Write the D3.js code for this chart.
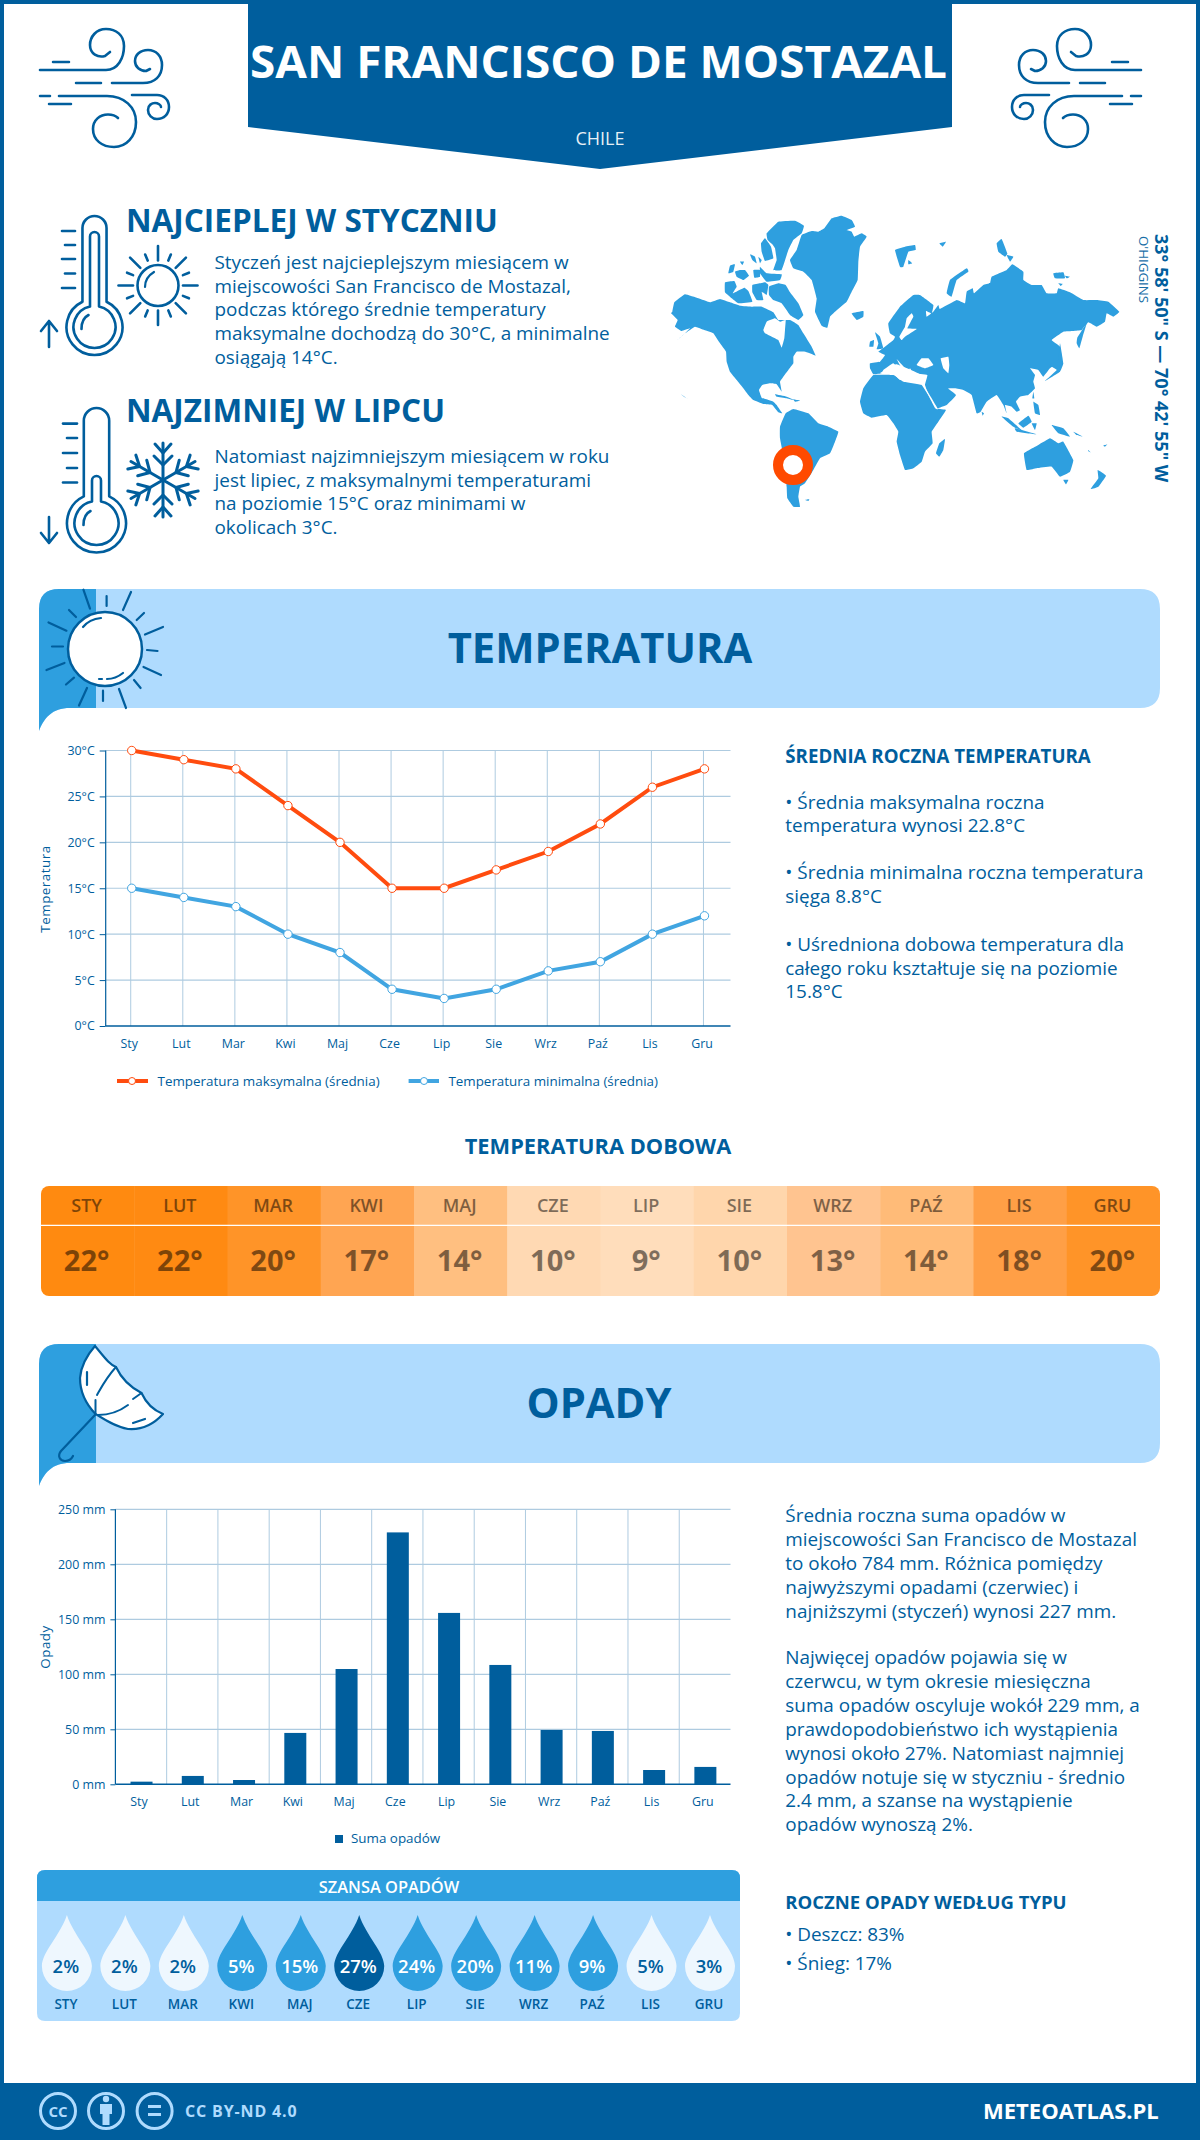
<!DOCTYPE html>
<html lang="pl"><head><meta charset="utf-8"><title>San Francisco de Mostazal</title>
<script src="https://cdn.jsdelivr.net/npm/d3@7"></script>
<style>html,body{margin:0;padding:0;background:#fff}svg{display:block}text{font-family:"Open Sans",sans-serif}</style>
</head><body><svg id="c" width="1200" height="2140" viewBox="0 0 1200 2140"></svg>
<script>
// ---------- data ----------
const months=["Sty","Lut","Mar","Kwi","Maj","Cze","Lip","Sie","Wrz","Paź","Lis","Gru"];
const monthsUpper=["STY","LUT","MAR","KWI","MAJ","CZE","LIP","SIE","WRZ","PAŹ","LIS","GRU"];
const tempMax=[30,29,28,24,20,15,15,17,19,22,26,28];
const tempMin=[15,14,13,10,8,4,3,4,6,7,10,12];
const tempTicks=[0,5,10,15,20,25,30];
const daily=[22,22,20,17,14,10,9,10,13,14,18,20];
const dailyColors=["#FF8A10","#FF8A12","#FF9428","#FFA552","#FFBF80","#FFD9B3","#FFDDBB","#FFD6AC","#FFC490","#FFBB78","#FF9F46","#FF9428"];
const precip=[2.4,7.6,3.9,46.7,104.8,229,155.8,108.5,49.4,48.5,13,15.8];
const precipTicks=[0,50,100,150,200,250];
const chance=[2,2,2,5,15,27,24,20,11,9,5,3];
const chanceLevel=[0,0,0,1,1,2,1,1,1,1,0,0];
const dropFill=["#EEF7FE","#2E9FDF","#005E9D"];
const dropText=["#005E9D","#FFFFFF","#FFFFFF"];
const warmText=["Styczeń jest najcieplejszym miesiącem w","miejscowości San Francisco de Mostazal,","podczas którego średnie temperatury","maksymalne dochodzą do 30°C, a minimalne","osiągają 14°C."];
const coldText=["Natomiast najzimniejszym miesiącem w roku","jest lipiec, z maksymalnymi temperaturami","na poziomie 15°C oraz minimami w","okolicach 3°C."];
const tempNotes=[["• Średnia maksymalna roczna",809],["temperatura wynosi 22.8°C",832],["• Średnia minimalna roczna temperatura",879],["sięga 8.8°C",903],["• Uśredniona dobowa temperatura dla",951],["całego roku kształtuje się na poziomie",975],["15.8°C",998]];
const rainNotes=[["Średnia roczna suma opadów w",1522],["miejscowości San Francisco de Mostazal",1546],["to około 784 mm. Różnica pomiędzy",1570],["najwyższymi opadami (czerwiec) i",1594],["najniższymi (styczeń) wynosi 227 mm.",1618],["Najwięcej opadów pojawia się w",1664],["czerwcu, w tym okresie miesięczna",1688],["suma opadów oscyluje wokół 229 mm, a",1712],["prawdopodobieństwo ich wystąpienia",1736],["wynosi około 27%. Natomiast najmniej",1760],["opadów notuje się w styczniu - średnio",1784],["2.4 mm, a szanse na wystąpienie",1807],["opadów wynoszą 2%.",1831]];
const rainTypes=[["• Deszcz: 83%",1941],["• Śnieg: 17%",1970]];

// ---------- palette ----------
const DARK="#005E9D",MID="#2E9FDF",PALE="#AFDBFE",GRID="#AECBE0",RED="#FF4C0F",AQUA="#41A5E1";
const svg=d3.select("#c");
function T(g,x,y,s,o={}){const t=g.append("text").attr("x",x).attr("y",y).text(s)
 .attr("font-size",o.size||18).attr("font-weight",o.w||400).attr("fill",o.fill||DARK)
 .attr("text-anchor",o.a||"start");
 if(o.ff)t.style("font-family",o.ff);if(o.ls)t.attr("letter-spacing",o.ls);if(o.op)t.attr("opacity",o.op);if(o.tl)t.attr("textLength",o.tl).attr("lengthAdjust","spacingAndGlyphs");return t;}
function L(g,x1,y1,x2,y2,sw=2.5,c=DARK){return g.append("line").attr("x1",x1).attr("y1",y1).attr("x2",x2).attr("y2",y2).attr("stroke",c).attr("stroke-width",sw).attr("stroke-linecap","round");}
function P(g,d,o={}){return g.append("path").attr("d",d).attr("fill",o.fill||"none").attr("stroke",o.stroke||"none").attr("stroke-width",o.sw||0).attr("stroke-linecap","round").attr("stroke-linejoin","round");}

// ---------- frame & header ----------
svg.append("rect").attr("x",2).attr("y",2).attr("width",1196).attr("height",2136).attr("fill","#fff").attr("stroke",DARK).attr("stroke-width",4);
P(svg,"M248 0H952V127L600 169L248 127Z",{fill:DARK});
T(svg,598.5,78,"SAN FRANCISCO DE MOSTAZAL",{size:44.5,w:700,fill:"#fff",a:"middle",tl:697});
T(svg,600,145,"CHILE",{size:18,fill:"#fff",a:"middle",op:.9});

function wind(g){
 const s={stroke:DARK,sw:2.6};
 P(g,"M40 70H106C118 70 124 58 124 46C124 35 116 29 106 29C96 29 90 37 90 45C90 54 98 58 105 56L110 52",s);
 L(g,53,62,69,62);
 L(g,76,83,101,83);
 P(g,"M112 83H143C155 83 162 76 162 65C162 56 156 50 148 50C140 50 135 55 135 61C135 67 140 71 146 71L150 69",s);
 L(g,40,96,50,96);
 P(g,"M59 96H107C124 96 136 107 136 122C136 137 126 147 114 147C102 147 93 140 93 129C93 120 100 114.5 108 114.5C113 114.5 116 116 118 118",s);
 L(g,49,104,71,104);
 P(g,"M132 95H157C164 95 169 100 169 107C169 114 164 119 157 119C152 119 148 115 148 110C148 105 152 103 155 103C158 103 161 105 161 107",s);
}
wind(svg.append("g"));
wind(svg.append("g").attr("transform","translate(1181,0) scale(-1,1)"));

// ---------- warm / cold blocks ----------
function thermo(g,cx,top,cy,R,r,iTop){
 const s={stroke:DARK,sw:2.6},hw=R*.43,jo=cy-Math.sqrt(R*R-hw*hw),ih=4.5,ji=cy-Math.sqrt(r*r-ih*ih);
 P(g,`M${cx-hw} ${jo}V${top+hw}A${hw} ${hw} 0 0 1 ${cx+hw} ${top+hw}V${jo}A${R} ${R} 0 1 1 ${cx-hw} ${jo}`,s);
 P(g,`M${cx-ih} ${ji}V${iTop+ih}A${ih} ${ih} 0 0 1 ${cx+ih} ${iTop+ih}V${ji}A${r} ${r} 0 1 1 ${cx-ih} ${ji}`,s);
 P(g,`M${cx-13} ${cy+2}C${cx-13} ${cy-5} ${cx-10} ${cy-10} ${cx-6} ${cy-12}`,s);
}
const warm=svg.append("g");
T(warm,126,232,"NAJCIEPLEJ W STYCZNIU",{size:31.5,w:700});
warmText.forEach((s,i)=>T(warm,214.5,[269,293,316,340,364][i],s,{size:18.9}));
thermo(warm,94.5,216,327,28,21,232);
[[62,231],[65,245],[62,259],[65,273.5],[62,288]].forEach(d=>L(warm,d[0],d[1],75,d[1],2.6));
P(warm,"M49 347V321M41 331L49 321L57 331",{stroke:DARK,sw:2.6});
warm.append("circle").attr("cx",158).attr("cy",285.5).attr("r",20.5).attr("fill","none").attr("stroke",DARK).attr("stroke-width",2.6);
P(warm,"M145 287C145 280 149 275 154 272",{stroke:DARK,sw:2.2});
d3.range(16).forEach(i=>{const a=i*Math.PI/8,lg=i%2==0,r0=lg?25:27,r1=lg?39.5:33.5;
 L(warm,158+r0*Math.cos(a),285.5+r0*Math.sin(a),158+r1*Math.cos(a),285.5+r1*Math.sin(a),2.6);});

const cold=svg.append("g");
T(cold,126,422,"NAJZIMNIEJ W LIPCU",{size:31.5,w:700});
coldText.forEach((s,i)=>T(cold,214.5,[463,487,510,534][i],s,{size:18.9}));
thermo(cold,96.5,408,523,29.5,22,476);
[[63,423.6],[67,438],[63,453],[67,468],[63,482.5]].forEach(d=>L(cold,d[0],d[1],77,d[1],2.6));
P(cold,"M49 517V543M41 533L49 543L57 533",{stroke:DARK,sw:2.6});
d3.range(6).forEach(i=>{const a=cold.append("g").attr("transform",`translate(163,480) rotate(${i*60})`);
 L(a,0,0,0,-37,3);
 P(a,"M-8 -36L0 -27L8 -36M-9 -24L0 -15L9 -24",{stroke:DARK,sw:3});});

// ---------- world map (outlines, in crop coordinates) ----------
const westLand=[
 [[22,320],[28,292],[60,268],[100,280],[135,292],[165,282],[195,292],[225,302],[262,305],[290,305],[325,322],[340,345],[375,345],[400,360],[415,385],[440,425],[452,452],[435,445],[420,440],[395,440],[385,455],[385,475],[370,495],[355,515],[345,530],[350,560],[335,538],[315,535],[292,540],[282,555],[290,578],[310,585],[325,590],[335,600],[345,615],[352,625],[340,622],[322,600],[295,597],[265,585],[250,570],[235,550],[215,525],[195,500],[185,470],[183,440],[165,415],[145,385],[118,375],[90,365],[60,385],[32,410],[60,385],[75,370],[50,378],[30,365],[38,345],[18,325]],
 [[305,85],[340,50],[390,47],[417,62],[410,85],[385,105],[370,135],[350,195],[325,195],[335,165],[330,130],[322,118],[308,105]],
 [[288,115],[300,100],[318,125],[325,160],[300,168],[290,140]],
 [[180,232],[208,228],[215,245],[203,265],[238,248],[250,258],[262,290],[220,295],[200,280],[180,262]],
 [[210,200],[225,195],[240,195],[252,212],[235,225],[215,215]],
 [[195,182],[210,178],[205,200],[190,205]],[[225,170],[237,170],[232,180]],[[255,148],[270,155],[275,175],[262,165]],[[280,155],[290,165],[285,175]],
 [[265,195],[285,195],[285,215],[268,218]],[[285,185],[305,205],[350,208],[345,225],[305,230],[285,205]],
 [[262,240],[285,235],[300,232],[310,240],[305,270],[290,260],[295,285],[275,285],[262,262]],
 [[312,245],[340,235],[362,240],[375,262],[400,295],[415,330],[400,345],[375,330],[350,295],[325,285],[312,270]],
 [[478,70],[500,40],[530,32],[560,45],[570,65],[545,75],[560,80],[568,95],[590,85],[605,95],[585,125],[580,170],[578,225],[560,260],[545,290],[510,320],[495,335],[487,368],[470,362],[450,320],[455,280],[440,225],[415,200],[385,190],[375,165],[395,135],[410,90],[440,78],[460,80]],
 [[560,325],[595,318],[595,335],[575,345]],
 [[345,665],[362,625],[385,612],[430,625],[460,655],[490,665],[520,680],[510,710],[495,745],[465,760],[445,795],[420,835],[405,845],[400,875],[405,905],[385,905],[367,880],[365,845],[360,780],[345,700]],
 [[420,885],[433,882],[430,888]],[[330,568],[365,575],[395,588],[365,580],[335,575]],[[385,583],[405,587],[390,590]],[[48,568],[68,582],[55,574]]
];
const westWater=[
 [[295,375],[305,350],[330,340],[345,350],[362,345],[360,375],[358,400],[350,428],[340,405],[320,395],[300,385]]
];
const eastLand=[
 [[60,475],[90,470],[105,450],[85,440],[105,425],[130,405],[135,395],[120,385],[115,355],[150,305],[190,270],[210,270],[250,300],[245,325],[228,318],[230,335],[250,320],[265,300],[270,312],[320,285],[345,295],[350,260],[368,250],[372,265],[400,240],[420,235],[425,215],[470,195],[487,178],[520,200],[520,225],[545,240],[575,240],[590,265],[620,265],[625,250],[660,262],[700,285],[740,285],[775,290],[808,320],[790,335],[770,325],[765,350],[740,365],[715,352],[695,375],[670,378],[640,380],[605,405],[630,425],[635,465],[600,490],[580,515],[565,495],[540,490],[555,510],[550,530],[555,550],[535,570],[510,575],[498,590],[510,615],[500,620],[485,605],[465,600],[470,625],[460,600],[440,570],[410,590],[392,620],[380,625],[365,570],[340,555],[315,550],[290,550],[280,540],[318,570],[290,600],[260,610],[240,580],[225,540],[232,510],[190,505],[180,490],[170,510],[155,490],[145,465],[160,505],[130,475],[100,495],[95,505],[70,508],[60,490]],
 [[30,590],[40,550],[70,510],[130,510],[160,530],[215,540],[260,610],[288,615],[265,650],[245,680],[248,715],[225,740],[215,770],[190,790],[165,795],[150,750],[140,710],[145,680],[130,655],[110,630],[65,638],[40,625]],
 [[75,382],[90,395],[100,430],[80,433],[85,415]],[[60,410],[72,405],[70,425],[58,425]],
 [[135,135],[165,125],[195,120],[197,135],[175,140],[160,185],[150,185]],[[175,165],[187,175],[175,178]],[[268,115],[288,110],[278,125]],
 [[290,265],[300,225],[350,190],[355,200],[320,225],[305,275]],
 [[440,115],[455,102],[472,145],[465,155],[445,140]],[[470,150],[490,155],[480,170]],
 [[610,205],[640,202],[645,220],[615,220]],[[625,235],[638,237],[632,243]],[[645,212],[660,215],[650,220]],
 [[682,398],[710,355],[698,395],[688,430],[680,415]],
 [[598,480],[625,465],[630,415],[640,475],[630,500],[585,528],[620,495]],
 [[550,560],[553,580],[547,580]],[[550,590],[565,600],[570,630],[555,625]],[[395,620],[402,625],[398,632]],
 [[455,635],[475,640],[520,680],[490,665]],[[495,670],[560,688],[500,680]],[[505,655],[535,632],[545,650],[520,668]],[[545,655],[560,655],[555,675]],
 [[605,660],[640,670],[660,695],[625,685]],[[670,680],[700,695],[680,690]],[[715,735],[722,742],[714,738]],[[760,722],[772,718],[765,725]],
 [[258,745],[268,715],[285,702],[280,735],[268,755]],
 [[522,745],[565,720],[600,700],[625,715],[640,710],[670,765],[660,800],[630,815],[605,785],[560,790],[530,795]],
 [[640,825],[655,825],[648,838]],[[722,852],[745,820],[743,795],[768,812],[745,845]]
];
const eastWater=[
 [[200,480],[215,460],[235,460],[250,480],[225,490]],[[272,460],[295,455],[298,480],[295,505],[280,490]],
 [[185,325],[190,335],[172,370],[200,372],[165,395],[155,405],[148,395],[165,365],[170,340]],
 [[222,545],[230,555],[264,612],[256,610]],[[140,462],[165,490],[170,505],[155,490]],[[90,505],[140,478],[225,515],[150,525],[130,505]]
];
const shape=d3.line().curve(d3.curveCardinalClosed.tension(.75));
function drawMap(tx0,land,water){
 const g=svg.append("g").attr("transform",`translate(${tx0},205) scale(${1/3})`);
 g.selectAll("path.l").data(land).join("path").attr("class","l").attr("d",shape).attr("fill",MID);
 g.selectAll("path.w").data(water).join("path").attr("class","w").attr("d",shape).attr("fill","#fff");
}
drawMap(665,westLand,westWater);drawMap(850,eastLand,eastWater);
svg.append("circle").attr("cx",793).attr("cy",465).attr("r",15).attr("fill","#fff").attr("stroke","#FF4A00").attr("stroke-width",10);
T(svg,0,0,"33° 58' 50\" S — 70° 42' 55\" W",{size:18,w:700}).attr("transform","translate(1155,234) rotate(90)");
T(svg,0,0,"O'HIGGINS",{size:13.3}).attr("opacity",.9).attr("transform","translate(1139,236) rotate(90)");

// ---------- banners ----------
function banner(g,top){const b=top+119;
 P(g,`M39 ${top+20}Q39 ${top} 59 ${top}H1140Q1160 ${top} 1160 ${top+20}V${b-20}Q1160 ${b} 1140 ${b}H70C52 ${b} 44 ${b+10} 39 ${b+23}Z`,{fill:PALE});
 P(g,`M39 ${top+20}Q39 ${top} 59 ${top}H96V${b}H70C52 ${b} 44 ${b+10} 39 ${b+23}Z`,{fill:MID});
}
const b1=svg.append("g");banner(b1,589);
T(b1,600,662.5,"TEMPERATURA",{size:41.7,w:700,a:"middle"});
[[83.4,589.7,90,608.6],[106.6,596,106.6,606],[131,592,123,610],[144,613,136.7,620],[163,627,145,634.5],[147,650,157.5,651],[143.5,667,161,675],[134,680,140.6,688],[119,689,126,708],[103,690.7,103,701],[87,688,79,705.5],[74,677.6,66,684.5],[64.5,663,46.5,670],[63,646.5,52,646.5],[66.4,630.7,48.5,622.4],[76,617,69,610]].forEach(d=>L(b1,d[0],d[1],d[2],d[3],2.2));
b1.append("circle").attr("cx",105).attr("cy",649).attr("r",37).attr("fill","#fff").attr("stroke",DARK).attr("stroke-width",2.5);
P(b1,"M83 627C87 622 92 619 101 618",{stroke:DARK,sw:2.2});
P(b1,"M107 679C113 679 118 677 123 673",{stroke:DARK,sw:2.2});
P(b1,"M99 679H102",{stroke:DARK,sw:2.2});

const b2=svg.append("g");banner(b2,1344);
T(b2,599,1418,"OPADY",{size:41.7,w:700,a:"middle"});
P(b2,"M95 1346C105 1358 109 1364 116 1367C122 1380 132 1388 141.5 1393C146 1403 153 1410 163 1414C152 1426 140 1430 128 1429C116 1427 105 1420 95.5 1414C84 1402 80 1390 80 1378C81 1365 88 1354 95 1346Z",{fill:"#fff",stroke:DARK,sw:2.2});
P(b2,"M116 1367C106 1378 101 1388 97 1395M95.5 1414L95.5 1400M141.5 1393L133 1399M128 1405C120 1411 110 1415 98 1415",{stroke:DARK,sw:2});
P(b2,"M87 1372V1385M133 1423L145 1419",{stroke:DARK,sw:2.2});
P(b2,"M95 1415L61 1451C57 1456 60 1461 65 1461C69 1461 72 1458 73 1456",{stroke:DARK,sw:2.2});

// ---------- temperature chart ----------
const tc=svg.append("g");
const tx=d3.scalePoint().domain(months).range([105.7,730.5]).padding(.5);
const ty=d3.scaleLinear().domain([0,30]).range([1026,750.5]);
function styleAxis(a){a.selectAll("text").attr("fill",DARK).attr("font-size",12.4).style("font-family",'"Open Sans",sans-serif');}
tc.append("g").selectAll("line").data(months).join("line").attr("x1",d=>tx(d)-1).attr("x2",d=>tx(d)-1).attr("y1",750.5).attr("y2",1026).attr("stroke",GRID).attr("stroke-width",1);
tc.append("g").selectAll("line").data(tempTicks.slice(1)).join("line").attr("x1",105.7).attr("x2",730.5).attr("y1",d=>ty(d)).attr("y2",d=>ty(d)).attr("stroke",GRID).attr("stroke-width",1.2);
tc.append("g").attr("transform","translate(105.7,0)").call(d3.axisLeft(ty).tickValues(tempTicks).tickFormat(d=>d+"°C").tickSize(6).tickPadding(5))
 .call(a=>{styleAxis(a);a.select(".domain").attr("stroke",DARK).attr("stroke-width",1.2).attr("d","M0 750.5V1026");a.selectAll("line").attr("stroke",DARK)});
tc.append("g").attr("transform","translate(0,1026)").call(d3.axisBottom(tx).tickSize(0).tickPadding(10))
 .call(a=>{styleAxis(a);a.select(".domain").attr("stroke",DARK).attr("stroke-width",1.5).attr("d","M105.7 0H730.5");a.selectAll("text").attr("dx",-3).attr("dy","0.95em")});
T(tc,0,0,"Temperatura",{size:13.4,a:"middle",ls:.5}).attr("transform","translate(50,889) rotate(-90)");
function series(g,vals,c){
 g.append("path").datum(vals).attr("fill","none").attr("stroke",c).attr("stroke-width",4).attr("d",d3.line().x((d,i)=>tx(months[i])).y(d=>ty(d)));
 g.selectAll("circle").data(vals).join("circle").attr("cx",(d,i)=>tx(months[i])).attr("cy",d=>ty(d)).attr("r",4.2).attr("fill","#fff").attr("stroke",c).attr("stroke-width",1);
}
series(tc.append("g"),tempMax,RED);series(tc.append("g"),tempMin,AQUA);
[[117,148,132,157.5,"Temperatura maksymalna (średnia)",RED],[408.6,439,424,448.4,"Temperatura minimalna (średnia)",AQUA]].forEach(d=>{
 L(tc,d[0],1081,d[1],1081,4,d[5]).attr("stroke-linecap","butt");
 tc.append("circle").attr("cx",d[2]).attr("cy",1081).attr("r",3.5).attr("fill","#fff").attr("stroke",d[5]);
 T(tc,d[3],1085.5,d[4],{size:13.4});
});
const tn=svg.append("g");
T(tn,785.3,763,"ŚREDNIA ROCZNA TEMPERATURA",{size:18.7,w:700});
tn.selectAll("text.n").data(tempNotes).join("text").attr("class","n").attr("x",785.3).attr("y",d=>d[1]).text(d=>d[0]).attr("font-size",18.9).attr("fill",DARK);

// ---------- daily temperature table ----------
const dt=svg.append("g");
T(dt,598,1154,"TEMPERATURA DOBOWA",{size:21.8,w:700,a:"middle"});
const hx=d3.scaleBand().domain(d3.range(12)).range([41,1160]);
const clip=svg.append("clipPath").attr("id","ht");clip.append("rect").attr("x",41).attr("y",1186).attr("width",1119).attr("height",110).attr("rx",8);
const hg=dt.append("g").attr("clip-path","url(#ht)");
hg.selectAll("rect").data(daily).join("rect").attr("x",(d,i)=>hx(i)).attr("y",1186).attr("width",hx.bandwidth()+.5).attr("height",110).attr("fill",(d,i)=>dailyColors[i]);
L(dt,41,1225.3,1160,1225.3,1.2,"#fff").attr("stroke-linecap","butt");
dt.selectAll("text.m").data(monthsUpper).join("text").attr("class","m").attr("x",(d,i)=>hx(i)+hx.bandwidth()/2-1).attr("y",1212).attr("text-anchor","middle").text(d=>d).attr("font-size",18).attr("font-weight",600).attr("fill","#000").attr("opacity",.5);
dt.selectAll("text.v").data(daily).join("text").attr("class","v").attr("x",(d,i)=>hx(i)+hx.bandwidth()/2-1).attr("y",1271).attr("text-anchor","middle").text(d=>d+"°").attr("font-size",29).attr("font-weight",700).attr("fill","#000").attr("opacity",.5);

// ---------- precipitation chart ----------
const pc=svg.append("g");
const px=d3.scaleBand().domain(months).range([115.4,730.5]);
const py=d3.scaleLinear().domain([0,250]).range([1784.3,1509.3]);
pc.append("g").selectAll("line").data(months.slice(1)).join("line").attr("x1",d=>px(d)).attr("x2",d=>px(d)).attr("y1",1509.3).attr("y2",1784.3).attr("stroke",GRID).attr("stroke-width",1);
pc.append("g").selectAll("line").data(precipTicks.slice(1)).join("line").attr("x1",115.4).attr("x2",730.5).attr("y1",d=>py(d)).attr("y2",d=>py(d)).attr("stroke",GRID).attr("stroke-width",1.2);
pc.append("g").attr("transform","translate(115.4,0)").call(d3.axisLeft(py).tickValues(precipTicks).tickFormat(d=>d+" mm").tickSize(5).tickPadding(5))
 .call(a=>{styleAxis(a);a.select(".domain").attr("stroke",DARK).attr("stroke-width",1.2).attr("d","M0 1509.3V1784.3");a.selectAll("line").attr("stroke",DARK)});
pc.append("g").attr("transform","translate(0,1784.3)").call(d3.axisBottom(px).tickSize(0).tickPadding(10))
 .call(a=>{styleAxis(a);a.select(".domain").attr("stroke",DARK).attr("stroke-width",1.5).attr("d","M115.4 0H730.5");a.selectAll("text").attr("dx",-2).attr("dy","0.95em")});
pc.append("g").selectAll("rect").data(precip).join("rect").attr("x",(d,i)=>px(months[i])+px.bandwidth()/2-10.5).attr("width",22).attr("y",d=>py(d)).attr("height",d=>py(0)-py(d)).attr("fill",DARK);
T(pc,0,0,"Opady",{size:13.4,a:"middle",ls:.5}).attr("transform","translate(50,1647) rotate(-90)");
pc.append("rect").attr("x",335).attr("y",1835).attr("width",8).attr("height",8).attr("fill",DARK);
T(pc,351,1843,"Suma opadów",{size:13.4});

const rn=svg.append("g");
rn.selectAll("text.n").data(rainNotes).join("text").attr("class","n").attr("x",785.3).attr("y",d=>d[1]).text(d=>d[0]).attr("font-size",18.9).attr("fill",DARK);
T(rn,785.3,1908.5,"ROCZNE OPADY WEDŁUG TYPU",{size:18.5,w:700});
rn.selectAll("text.t").data(rainTypes).join("text").attr("class","t").attr("x",785.3).attr("y",d=>d[1]).text(d=>d[0]).attr("font-size",18.9).attr("fill",DARK);

// ---------- chance of precipitation ----------
const ch=svg.append("g");
P(ch,"M45 1870H732Q740 1870 740 1878V2013Q740 2021 732 2021H45Q37 2021 37 2013V1878Q37 1870 45 1870Z",{fill:PALE});
P(ch,"M37 1901V1878Q37 1870 45 1870H732Q740 1870 740 1878V1901Z",{fill:MID});
T(ch,389,1892.5,"SZANSA OPADÓW",{size:16.4,w:600,fill:"#fff",a:"middle"});
const dx=d3.scalePoint().domain(d3.range(12)).range([66.9,710]);
const drop=x=>`M${x} 1915C${x+7} 1936 ${x+25} 1952 ${x+25} 1966A25 25 0 0 1 ${x-25} 1966C${x-25} 1952 ${x-7} 1936 ${x} 1915Z`;
ch.selectAll("path.d").data(chance).join("path").attr("class","d").attr("d",(d,i)=>drop(dx(i))).attr("fill",(d,i)=>dropFill[chanceLevel[i]]);
ch.selectAll("text.p").data(chance).join("text").attr("class","p").attr("x",(d,i)=>dx(i)-1).attr("y",1973).attr("text-anchor","middle").text(d=>d+"%").attr("font-size",18.5).attr("font-weight",600).attr("fill",(d,i)=>dropText[chanceLevel[i]]);
ch.selectAll("text.m").data(monthsUpper).join("text").attr("class","m").attr("x",(d,i)=>dx(i)-1).attr("y",2009).attr("text-anchor","middle").text(d=>d).attr("font-size",13.5).attr("font-weight",600).attr("fill",DARK);

// ---------- footer ----------
const ft=svg.append("g");
ft.append("rect").attr("x",0).attr("y",2083).attr("width",1200).attr("height",57).attr("fill",DARK);
[58,106,154.6].forEach(x=>ft.append("circle").attr("cx",x).attr("cy",2111).attr("r",17.5).attr("fill","none").attr("stroke",PALE).attr("stroke-width",3));
T(ft,58,2116.5,"CC",{size:15,w:700,fill:PALE,a:"middle"});
ft.append("circle").attr("cx",106).attr("cy",2099).attr("r",3.2).attr("fill",PALE);
P(ft,"M100 2104H112V2114H109.5V2125H102.5V2114H100Z",{fill:PALE});
P(ft,"M148 2106.5H161M148 2114.5H161",{stroke:PALE,sw:3.2}).attr("stroke-linecap","butt");
T(ft,185,2117,"CC BY-ND 4.0",{size:16,w:700,fill:PALE,ls:.85});
T(ft,983,2119,"METEOATLAS.PL",{size:22,w:700,fill:"#fff"});
</script></body></html>
